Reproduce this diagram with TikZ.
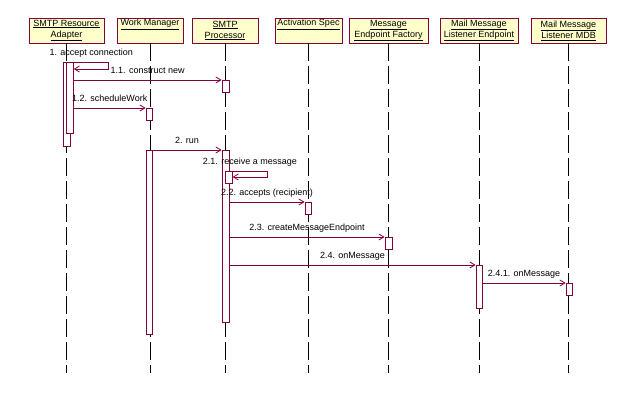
\documentclass[tikz,border=0pt]{standalone}
\usepackage{fontspec}
\setmainfont{Liberation Sans}
\usetikzlibrary{positioning, arrows.meta}

\definecolor{umlline}{RGB}{128,0,64}
\definecolor{headfill}{RGB}{255,255,204}

\begin{document}
\begin{tikzpicture}[
      x=1pt, y=-1pt,
      head/.style={draw=umlline, fill=headfill, line width=0.8pt, align=center, minimum height=25, inner sep=1pt, font=\fontsize{9}{11}\selectfont},
      act/.style={draw=umlline, fill=white, line width=0.8pt, minimum width=7, inner sep=0, anchor=north},
      lifeline/.style={line width=0.8pt, dash pattern=on 18pt off 5pt},
      msg/.style={draw=umlline, line width=0.8pt, -{Straight Barb[length=5pt, width=6pt]}},
      lbl/.style={above=3pt, inner sep=1pt, text height=7pt, text depth=2pt, font=\fontsize{9}{11}\selectfont}
    ]
      \useasboundingbox (0,0) rectangle (636,395);

      % object heads
      \node[head, minimum width=75] (sra) at (66.5,30.5) {\underline{SMTP Resource}\\\underline{Adapter}};
      \node[head, minimum width=66, right=12.2pt of sra] (wm) {\underline{Work Manager}\\\strut};
      \node[head, minimum width=66, right=8.2pt of wm] (sp) {\underline{SMTP}\\\underline{Processor}};
      \node[head, minimum width=67, right=16.2pt of sp] (as) {\underline{Activation Spec}\\\strut};
      \node[head, minimum width=79, right=6.2pt of as] (mef) {\underline{Message}\\\underline{Endpoint Factory}};
      \node[head, minimum width=78, right=11.2pt of mef] (mle) {\underline{Mail Message}\\\underline{Listener Endpoint}};
      \node[head, minimum width=75, right=12.2pt of mle] (mdb) {\underline{Mail Message}\\\underline{Listener MDB}};

      % lifelines
      \coordinate (bottom) at (0,373);
      \draw[lifeline] (sra.south) -- (sra.south |- bottom);
      \draw[lifeline] (wm.south) -- (wm.south |- bottom);
      \draw[lifeline] (sp.south) -- (sp.south |- bottom);
      \draw[lifeline] (as.south) -- (as.south |- bottom);
      \draw[lifeline] (mef.south) -- (mef.south |- bottom);
      \draw[lifeline] (mle.south) -- (mle.south |- bottom);
      \draw[lifeline] (mdb.south) -- (mdb.south |- bottom);

      % activations
      \node[act, minimum height=84] (sra1) at (66.7,62) {};
      \node[act, minimum height=71, minimum width=6.6] (sra2) at (70,62) {};
      \node[act, minimum height=12] (sp1) at (225.5,80) {};
      \node[act, minimum height=12, minimum width=6] (wm1) at (149,108) {};
      \node[act, minimum height=184, minimum width=6] (wm2) at (149,150) {};
      \node[act, minimum height=172] (sp2) at (225.5,150) {};
      \node[act, minimum height=12] (sp3) at (228.7,171) {};
      \node[act, minimum height=12, minimum width=6] (as1) at (308,202) {};
      \node[act, minimum height=12] (mef1) at (388.5,237) {};
      \node[act, minimum height=43, minimum width=6] (mle1) at (479,265) {};
      \node[act, minimum height=12, minimum width=6] (mdb1) at (569,283) {};

      % messages
      \draw[msg] (sra2.north east) -- node[lbl] {1. accept connection} ++(35,0) |- ([yshift=-7pt]sra2.north east);
      \draw[msg] (sra2.east |- sp1.north) -- node[lbl] {1.1. construct new} (sp1.north west);
      \draw[msg] (sra2.east |- wm1.north) -- node[lbl] {1.2. scheduleWork} (wm1.north west);
      \draw[msg] (wm2.north east) -- node[lbl] {2. run} (sp2.north west);
      \draw[msg] (sp3.north east) -- node[lbl] {2.1. receive a message} ++(34.5,0) |- ([yshift=-6pt]sp3.north east);
      \draw[msg] (sp2.east |- as1.north) -- node[lbl] {2.2. accepts (recipient)} (as1.north west);
      \draw[msg] (sp2.east |- mef1.north) -- node[lbl] {2.3. createMessageEndpoint} (mef1.north west);
      \draw[msg] (sp2.east |- mle1.north) -- node[lbl] {2.4. onMessage} (mle1.north west);
      \draw[msg] (mle1.east |- mdb1.north) -- node[lbl] {2.4.1. onMessage} (mdb1.north west);
    \end{tikzpicture}
\end{document}
